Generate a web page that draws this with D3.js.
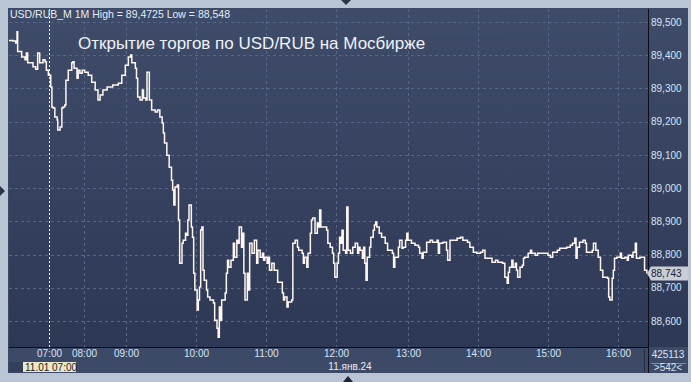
<!DOCTYPE html>
<html>
<head>
<meta charset="utf-8">
<script src="https://cdn.jsdelivr.net/npm/d3@7"></script>
<style>
  html, body { margin: 0; padding: 0; background: #bac5d3; }
  svg { display: block; font-family: "Liberation Sans", Arial, sans-serif; }
  .grid line { stroke: #566688; stroke-dasharray: 3,3; stroke-width: 1; }
  .yaxis text, .xaxis text { fill: #d6e4f4; font-size: 10px; }
</style>
</head>
<body>
<div id="chart"></div>
<script>
// 1-minute closes, USD/RUB_M
const times = [
  "06:00","06:06","06:10","06:12","06:13","06:19","06:24","06:26","06:28","06:36","06:40","06:43","06:46","06:51","06:54","06:56","06:59",
  "07:03","07:05","07:07","07:10","07:14","07:15","07:19","07:22","07:24","07:27","07:29","07:33","07:39","07:41","07:43","07:48","07:50","07:53","07:57",
  "08:01","08:06","08:11","08:16","08:20","08:23","08:27","08:33","08:41","08:49","08:54","08:59",
  "09:02","09:04","09:05","09:08","09:09","09:10","09:12","09:14","09:15","09:17","09:18","09:20","09:22","09:25","09:27","09:29","09:31","09:32","09:33","09:35","09:37","09:39","09:40","09:41","09:42","09:44","09:45","09:46","09:48","09:49","09:51","09:52","09:53","09:54","09:56","09:57","09:58","09:59",
  "10:01","10:02","10:03","10:04","10:05","10:06","10:07","10:09","10:10","10:12","10:15","10:16","10:18","10:19","10:20","10:21","10:22","10:25","10:26","10:27","10:28","10:30","10:32","10:33","10:35","10:36","10:37","10:39","10:40","10:41","10:42","10:44","10:45","10:46","10:48","10:50","10:51","10:52","10:53","10:55","10:57","10:58","10:59",
  "11:01","11:02","11:03","11:05","11:07","11:09","11:10","11:12","11:14","11:15","11:16","11:18","11:19","11:22","11:23","11:25","11:27","11:28","11:31","11:32","11:33","11:35","11:36","11:38","11:39","11:40","11:42","11:44","11:45","11:46","11:47","11:49","11:52","11:53","11:55","11:57","11:58","11:59",
  "12:01","12:02","12:03","12:04","12:05","12:06","12:08","12:09","12:10","12:12","12:14","12:16","12:18","12:19","12:20","12:22","12:23","12:24","12:25","12:26","12:28","12:29","12:31","12:32","12:33","12:34","12:36","12:38","12:41","12:43","12:47","12:48","12:49","12:52","12:53","12:55","12:56","12:58","12:59",
  "13:00","13:03","13:06","13:09","13:10","13:12","13:13","13:16","13:19","13:21","13:25","13:26","13:27","13:30","13:33","13:34","13:36","13:39","13:42","13:45","13:47","13:51","13:53","13:56","13:59",
  "14:02","14:04","14:06","14:09","14:12","14:15","14:17","14:21","14:23","14:25","14:26","14:27","14:29","14:30","14:32","14:33","14:34","14:36","14:38","14:39","14:40","14:42","14:43","14:45","14:46","14:49","14:51","14:55","14:57",
  "15:00","15:02","15:04","15:08","15:10","15:13","15:16","15:19","15:21","15:23","15:24","15:25","15:27","15:30","15:32","15:33","15:35","15:38","15:39","15:41","15:43","15:45","15:47","15:51","15:52","15:53","15:55","15:56","15:57","15:59",
  "16:02","16:03","16:06","16:08","16:09","16:12","16:13","16:15","16:16","16:19","16:21","16:23","16:25"
];
const prices = [
  89.444,89.443,89.437,89.471,89.411,89.395,89.386,89.407,89.377,89.365,89.358,89.407,89.377,89.386,89.380,89.355,89.340,
  89.304,89.244,89.241,89.214,89.205,89.175,89.184,89.241,89.244,89.250,89.325,89.355,89.377,89.380,89.361,89.331,89.355,89.346,89.355,
  89.349,89.340,89.319,89.295,89.265,89.280,89.295,89.304,89.310,89.316,89.340,89.370,
  89.395,89.401,89.377,89.361,89.331,89.274,89.265,89.295,89.271,89.265,89.349,89.265,89.235,89.229,89.235,89.214,89.196,89.166,89.136,89.099,89.063,89.024,88.994,88.949,89.003,89.009,88.904,88.774,88.834,88.843,88.864,88.858,88.904,88.949,88.883,88.852,88.744,88.693,
  88.633,88.663,88.702,88.874,88.883,88.753,88.723,88.693,88.672,88.663,88.654,88.602,88.578,88.551,88.642,88.602,88.663,88.684,88.744,88.783,88.762,88.783,88.834,88.792,88.843,88.834,88.883,88.822,88.864,88.744,88.663,88.744,88.693,88.834,88.804,88.843,88.843,88.774,88.813,88.792,88.804,88.783,88.792,
  88.774,88.792,88.753,88.774,88.753,88.753,88.717,88.717,88.684,88.663,88.672,88.642,88.657,88.663,88.834,88.843,88.822,88.813,88.804,88.774,88.792,88.762,88.804,88.864,88.904,88.910,88.864,88.895,88.883,88.934,88.883,88.883,88.873,88.834,88.822,88.804,88.774,88.732,
  88.774,88.804,88.852,88.834,88.873,88.813,88.804,88.943,88.813,88.804,88.822,88.834,88.804,88.822,88.813,88.789,88.822,88.774,88.723,88.792,88.822,88.852,88.873,88.889,88.898,88.883,88.864,88.852,88.834,88.813,88.804,88.762,88.792,88.822,88.843,88.819,88.822,88.843,88.864,
  88.843,88.834,88.828,88.822,88.804,88.789,88.807,88.837,88.843,88.837,88.843,88.804,88.834,88.837,88.813,88.783,88.843,88.843,88.849,88.852,88.843,88.837,88.822,88.807,88.804,
  88.807,88.813,88.789,88.789,88.777,88.783,88.777,88.774,88.732,88.714,88.747,88.762,88.783,88.762,88.774,88.753,88.732,88.762,88.768,88.789,88.792,88.792,88.804,88.813,88.804,88.798,88.804,88.804,88.804,
  88.798,88.792,88.807,88.813,88.819,88.819,88.822,88.828,88.834,88.849,88.789,88.822,88.837,88.843,88.834,88.807,88.807,88.813,88.834,88.813,88.792,88.753,88.732,88.729,88.672,88.663,88.729,88.753,88.789,88.792,
  88.804,88.789,88.792,88.783,88.798,88.792,88.807,88.834,88.789,88.792,88.792,88.753,88.743
];
const hourTicks = ["07:00","08:00","09:00","10:00","11:00","12:00","13:00","14:00","15:00","16:00"];
const priceTicks = [88.6, 88.7, 88.8, 88.9, 89.0, 89.1, 89.2, 89.3, 89.4, 89.5];
const lastPrice = 88.743;
const header = "USD/RUB_M 1M High = 89,4725 Low = 88,548";
const title = "Открытие торгов по USD/RUB на Мосбирже";

const W = 691, H = 382;
const L = 9, T = 9, R = 648, B = 347;

const parse = d3.timeParse("%d.%m.%Y %H:%M");
const t = s => parse("11.01.2024 " + s);

// bars are spaced by index, so hours do not get equal width
const x = d3.scaleTime()
  .domain(["06:00","07:00","08:00","09:00","10:00","11:00","12:00","13:00","14:00","15:00","16:00","16:26"].map(t))
  .range([L, 49, 84, 126, 196, 266, 336, 408, 478, 548, 618, R]);
const y = d3.scaleLinear().domain([88.6, 89.5]).range([321, 22]);

const ru = d3.formatLocale({decimal: ",", thousands: " ", grouping: [3], currency: ["", ""]});
const fmt = ru.format(".3f");

const svg = d3.select("#chart").append("svg").attr("width", W).attr("height", H);

const defs = svg.append("defs");
const grad = defs.append("linearGradient").attr("id", "bg").attr("x1", 0).attr("y1", 0).attr("x2", 0).attr("y2", 1);
grad.append("stop").attr("offset", "0%").attr("stop-color", "#3f4c69");
grad.append("stop").attr("offset", "100%").attr("stop-color", "#2d3855");

svg.append("rect").attr("width", W).attr("height", H).attr("fill", "#bac5d3");
svg.append("rect").attr("x", 8).attr("y", 8).attr("width", 680).attr("height", 365).attr("fill", "#3c4966");
svg.append("rect").attr("x", L).attr("y", T).attr("width", R - L).attr("height", B - T).attr("fill", "url(#bg)");
svg.append("rect").attr("x", R).attr("y", T).attr("width", 688 - R).attr("height", B - T).attr("fill", "url(#bg)");
svg.append("rect").attr("x", L).attr("y", B).attr("width", 688 - L).attr("height", 373 - B).attr("fill", "#3d4a67");
svg.append("rect").attr("x", L).attr("y", 362).attr("width", 14).attr("height", 10).attr("fill", "#33405b");

// little scroll arrows round the frame
svg.append("path").attr("d", "M341,0 L351,0 L346,5 Z").attr("fill", "#2a3448");
svg.append("path").attr("d", "M0,186 L5,191 L0,196 Z").attr("fill", "#2a3448");
svg.append("path").attr("d", "M343,382 L348,376 L353,382 Z").attr("fill", "#1c2436");

// grid
const grid = svg.append("g").attr("class", "grid");
grid.selectAll(".h").data(priceTicks).enter().append("line")
  .attr("x1", L).attr("x2", R)
  .attr("y1", d => Math.round(y(d)) + 0.5).attr("y2", d => Math.round(y(d)) + 0.5);
grid.selectAll(".v").data(hourTicks.slice(1)).enter().append("line")
  .attr("x1", d => Math.round(x(t(d))) + 0.5).attr("x2", d => Math.round(x(t(d))) + 0.5)
  .attr("y1", T).attr("y2", B);

// session start marker
svg.append("line")
  .attr("x1", Math.round(x(t(hourTicks[0]))) + 0.5).attr("x2", Math.round(x(t(hourTicks[0]))) + 0.5)
  .attr("y1", T).attr("y2", B)
  .attr("stroke", "#e8eef6").attr("stroke-dasharray", "2,2");

// price line
const line = d3.line()
  .x((d, i) => x(t(times[i])))
  .y(d => y(d))
  .curve(d3.curveStepAfter);
svg.append("path").datum(prices)
  .attr("d", line)
  .attr("fill", "none")
  .attr("stroke", "#fff6f0")
  .attr("stroke-width", 1.5);

// frame lines
svg.append("line").attr("x1", L).attr("x2", R + 1).attr("y1", B + 0.5).attr("y2", B + 0.5).attr("stroke", "#0c0f16");
svg.append("line").attr("x1", R + 0.5).attr("x2", R + 0.5).attr("y1", T).attr("y2", 373).attr("stroke", "#0c0f16");
svg.append("line").attr("x1", 644.5).attr("x2", 644.5).attr("y1", 350).attr("y2", 372).attr("stroke", "#222a3c");
svg.append("line").attr("x1", 651).attr("x2", 686).attr("y1", 363.5).attr("y2", 363.5).attr("stroke", "#7d8ca6");

// right axis
const yAxis = d3.axisRight(y).tickValues(priceTicks).tickFormat(fmt).tickSize(0).tickPadding(3);
svg.append("g").attr("class", "yaxis").attr("transform", `translate(${R},0)`).call(yAxis)
  .call(g => g.select(".domain").remove());

// bottom axis
const xAxis = d3.axisBottom(x).tickValues(hourTicks.map(t)).tickFormat(d3.timeFormat("%H:%M")).tickSize(0).tickPadding(3);
svg.append("g").attr("class", "xaxis").attr("transform", `translate(0,${B})`).call(xAxis)
  .call(g => g.select(".domain").remove());

svg.append("text").attr("x", 350).attr("y", 369.5).attr("text-anchor", "middle")
  .attr("fill", "#e6eef8").attr("font-size", 10).text("11.янв.24");

// cursor date box
svg.append("rect").attr("x", 23).attr("y", 362).attr("width", 53).attr("height", 10).attr("fill", "#ebe7cb");
svg.append("text").attr("x", 25).attr("y", 370.5).attr("fill", "#1e1e1e").attr("font-size", 10).text("11.01 07:00");

// volume / bar counter
svg.append("text").attr("x", 668).attr("y", 358).attr("text-anchor", "middle")
  .attr("fill", "#d6e4f4").attr("font-size", 10).text("425113");
svg.append("text").attr("x", 668).attr("y", 370.5).attr("text-anchor", "middle")
  .attr("fill", "#d6e4f4").attr("font-size", 10).text(">542<");

// last price tag
const ly = y(lastPrice);
svg.append("path")
  .attr("d", `M${R - 1},${ly} L${R + 3},${ly - 7} L688,${ly - 7} L688,${ly + 7} L${R + 3},${ly + 7} Z`)
  .attr("fill", "#c9cdd5");
svg.append("text").attr("x", R + 3).attr("y", ly).attr("dy", "0.35em")
  .attr("fill", "#16233a").attr("font-size", 10).text(fmt(lastPrice));

// header and title
svg.append("text").attr("x", 10).attr("y", 18).attr("fill", "#e4ebf4").attr("font-size", 10.5).text(header);
svg.append("text").attr("x", 78).attr("y", 49).attr("fill", "#eef2f8").attr("font-size", 17).text(title);
</script>
</body>
</html>
